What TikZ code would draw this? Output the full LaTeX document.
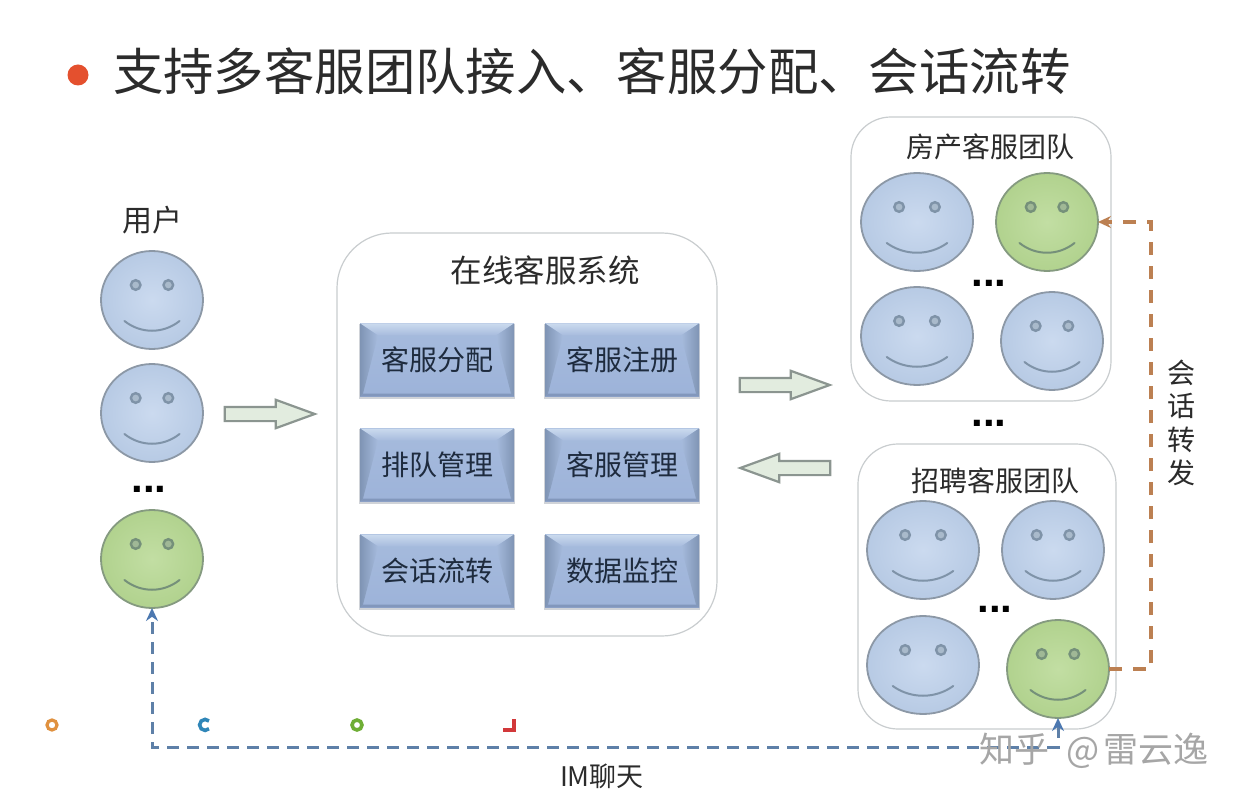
\documentclass[tikz,border=0pt]{standalone}
\usepackage{fontspec}
\setmainfont{Noto Sans CJK SC}
\newfontfamily\latinbold{Liberation Sans}[BoldFont={Liberation Sans Bold}]
\usetikzlibrary{shapes.geometric,shapes.arrows,arrows.meta}
\definecolor{ink}{HTML}{2B2B2B}
\definecolor{navy}{HTML}{1E2B3E}
\definecolor{bluein}{HTML}{CBDAEF}
\definecolor{blueout}{HTML}{B7CAE4}
\definecolor{greenin}{HTML}{C2DEA3}
\definecolor{greenout}{HTML}{B1D28E}
\definecolor{faceedge}{HTML}{8C98A6}
\definecolor{greenedge}{HTML}{859A80}
\definecolor{featblue}{HTML}{7F93A8}
\definecolor{featgreen}{HTML}{75907A}
\definecolor{eyeblue}{HTML}{A9BACB}
\definecolor{eyegreen}{HTML}{A0B896}
\definecolor{panel}{HTML}{C9CDCF}
\definecolor{imblue}{HTML}{5E80A8}
\definecolor{imtip}{HTML}{4C78B0}
\definecolor{forward}{HTML}{BC8052}
\definecolor{arrowfill}{HTML}{E2ECDF}
\definecolor{arrowedge}{HTML}{8B9590}
\definecolor{bullet}{HTML}{E4502E}
\definecolor{markorange}{HTML}{E0913F}
\definecolor{markblue}{HTML}{2F86B8}
\definecolor{markgreen}{HTML}{6FAE35}
\definecolor{markred}{HTML}{D2383A}
\definecolor{facetop}{HTML}{A6BBDD}
\definecolor{facebot}{HTML}{9DB3D9}
\definecolor{beveltop}{HTML}{CBDAEE}
\definecolor{bevelleft}{HTML}{7F94B4}
\definecolor{bevelbot}{HTML}{8297BC}
\definecolor{boxshadow}{HTML}{D0D3D8}
\tikzset{
  x=1pt,y=-1pt,
  every node/.style={inner sep=0pt,outer sep=0pt,text=ink},
  panelbox/.style={draw=panel,line width=1.2pt,fill=white,rounded corners=#1},
  bluehead/.style={ellipse,draw=faceedge,line width=1.8pt,inner color=bluein,outer color=blueout},
  greenhead/.style={ellipse,draw=greenedge,line width=1.8pt,inner color=greenin,outer color=greenout},
  label28/.style={font=\fontsize{28}{30}\selectfont},
  dots/.style={font=\latinbold\bfseries\fontsize{42}{42}\selectfont,text=black},
  wide/.style={single arrow,draw=arrowedge,line width=2.2pt,fill=arrowfill,minimum height=90pt,minimum width=24pt,inner xsep=0pt,inner ysep=6pt,single arrow tip angle=40},
  imline/.style={draw=imblue,line width=3pt,dash pattern=on 12pt off 8pt,{Stealth[length=13pt,width=12pt,color=imtip]}-{Stealth[length=13pt,width=12pt,color=imtip]}},
  fwline/.style={draw=forward,line width=3.4pt,dash pattern=on 13pt off 11pt,-{Stealth[length=13pt,width=12pt]}},
}
% name, cx, cy, half-width, style, feature colour, eye colour
\newcommand{\smileyface}[7]{%
  \node[#5,minimum width=#4*2pt,minimum height=98pt] (#1) at (#2,#3) {};
  \fill[#7,draw=#6,line width=2.4pt] ([shift={(-#4*0.32,-15)}]#1.center) circle (4.8pt);
  \fill[#7,draw=#6,line width=2.4pt] ([shift={(#4*0.32,-15)}]#1.center) circle (4.8pt);
  \draw[#6,line width=2pt,line cap=round] ([shift={(-#4*0.54,21)}]#1.center) .. controls ([shift={(-#4*0.22,34)}]#1.center) and ([shift={(#4*0.22,34)}]#1.center) .. ([shift={(#4*0.54,21)}]#1.center);
}
\newcommand{\bluesmile}[4]{\smileyface{#1}{#2}{#3}{#4}{bluehead}{featblue}{eyeblue}}
\newcommand{\greensmile}[4]{\smileyface{#1}{#2}{#3}{#4}{greenhead}{featgreen}{eyegreen}}
% name, cx, cy, text
\newcommand{\bevelbox}[4]{%
  \fill[boxshadow] (#2-78,#3-36) rectangle (#2+78,#3+39);
  \node[minimum width=154pt,minimum height=73pt,top color=facetop,bottom color=facebot] (#1) at (#2,#3) {};
  \path[top color=beveltop,bottom color=facetop] (#1.north west) -- (#1.north east) -- ([shift={(-18,12)}]#1.north east) -- ([shift={(18,12)}]#1.north west) -- cycle;
  \path[left color=bevelleft,right color=facetop] (#1.north west) -- ([shift={(18,12)}]#1.north west) -- ([shift={(3,-3)}]#1.south west) -- (#1.south west) -- cycle;
  \path[right color=bevelleft,left color=facetop] (#1.north east) -- ([shift={(-18,12)}]#1.north east) -- ([shift={(-3,-3)}]#1.south east) -- (#1.south east) -- cycle;
  \fill[bevelbot] (#1.south west) -- ([shift={(3,-3)}]#1.south west) -- ([shift={(-3,-3)}]#1.south east) -- (#1.south east) -- cycle;
  \node[label28,text=navy] at (#1.center) {#4};
}
\begin{document}
\begin{tikzpicture}
\useasboundingbox (0,0) rectangle (1240,802);
\fill[white] (0,0) rectangle (1240,802);
% title
\fill[bullet] (78,75) circle (10.5pt);
\node[anchor=west,font=\fontsize{50.4}{54}\selectfont] (title) at (113,71) {支持多客服团队接入、客服分配、会话流转};
% panels
\draw[panelbox=55pt] (337,233) rectangle (717,636);
\draw[panelbox=40pt] (851,117) rectangle (1111,401);
\draw[panelbox=40pt] (858,444) rectangle (1116,729);
% users
\node[font=\fontsize{30}{32}\selectfont] (users) at (152,220) {用户};
\bluesmile{u1}{152}{300}{51}
\bluesmile{u2}{152}{413}{51}
\greensmile{u4}{152}{559}{51}
\node[dots] (udots) at (149,489) {...};
% system
\node[font=\fontsize{31.5}{34}\selectfont] (systitle) at (545,270) {在线客服系统};
\bevelbox{b1}{437}{360}{客服分配}
\bevelbox{b2}{622}{360}{客服注册}
\bevelbox{b3}{437}{465}{排队管理}
\bevelbox{b4}{622}{465}{客服管理}
\bevelbox{b5}{437}{571}{会话流转}
\bevelbox{b6}{622}{571}{数据监控}
% team 1
\node[label28] (t1) at (990,147) {房产客服团队};
\bluesmile{p1}{917}{222}{56}
\greensmile{p2}{1047}{222}{51}
\bluesmile{p3}{917}{336}{56}
\bluesmile{p4}{1052}{341}{51}
\node[dots] (pdots) at (989,283) {...};
\node[dots] (mdots) at (989,423) {...};
% team 2
\node[label28] (t2) at (995,481) {招聘客服团队};
\bluesmile{z1}{923}{550}{56}
\bluesmile{z2}{1053}{550}{51}
\bluesmile{z3}{923}{665}{56}
\greensmile{a4}{1058}{669}{51}
\node[dots] (zdots) at (995,609) {...};
% wide arrows
\node[wide] (w1) at (260,414) {};
\node[wide] (w2) at (775,385) {};
\node[wide,shape border rotate=180] (w3) at (795,468) {};
% connectors
\coordinate (imy) at (600,747);
\coordinate (fwx) at (1151,400);
\draw[imline] (a4.south) -- (a4.south |- imy) -- (u4.south |- imy) -- (u4.south);
\draw[fwline] (a4.east) -- (a4.east -| fwx) -- (p2.east -| fwx) -- (p2.east);
\node[font=\fontsize{27}{29}\selectfont] (imlabel) at (602,776) {IM聊天};
\node[align=center,font=\fontsize{28}{33.5}\selectfont] (fwlabel) at (1181,423) {会\\话\\转\\发};
% coloured marks
\draw[markorange,line width=3.2pt] (52,725) circle (5pt);
\draw[markblue,line width=3.6pt] (209,721) arc (45:315:5.5pt);
\draw[markgreen,line width=3.6pt] (357,725) circle (5pt);
\draw[markred,line width=3.8pt] (514,719) -- (514,730) -- (503,730);
% watermark
\node[font=\fontsize{35}{38}\selectfont,text=black!35,anchor=west] (wm) at (979,751) {知乎\hspace{0.5em}@\hspace{0.12em}雷云逸};
\end{tikzpicture}
\end{document}
